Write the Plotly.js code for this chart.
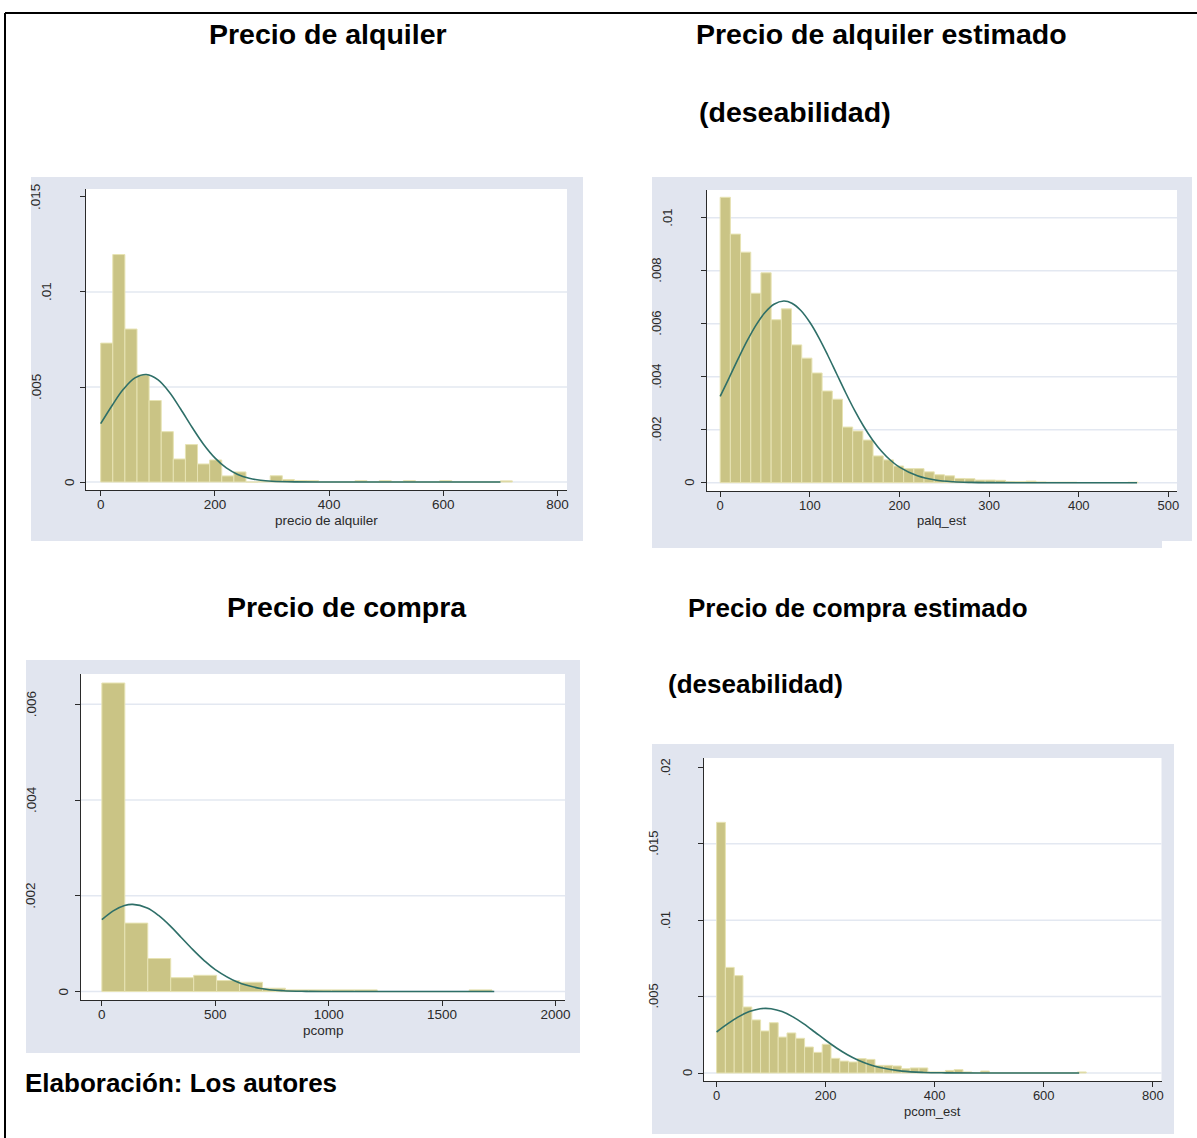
<!DOCTYPE html>
<html>
<head>
<meta charset="utf-8">
<script src="https://cdn.plot.ly/plotly-3.0.1.min.js"></script>
<style>html,body{margin:0;padding:0;background:#fff;}#chart{width:1197px;height:1138px;}</style>
</head>
<body>
<div id="chart"></div>
<script>
// ---------- DATA ----------
// Panel 1: precio de alquiler (histogram densities, bins start at 0)
const alqBinStart = 0;
const alqBinWidth = 21.2;
const alqDensity = [0.00731, 0.01197, 0.00805, 0.00564, 0.00429, 0.00265, 0.00121, 0.00197, 0.00095, 0.00116,
  0.00032, 0.00053, 0.0, 0.00003, 0.00033, 0.00013, 0.00008, 0.00007, 0, 0,
  0, 0.00007, 0, 0.00007, 0, 0.00007, 0, 0, 0.00007, 0,
  0, 0, 0, 0.00006];
const alqCurveX = [0, 20, 40, 60, 80, 100, 120, 140, 160, 180, 200, 220, 240, 260, 280, 300, 340, 400, 500, 600, 700];
const alqCurveY = [0.00307, 0.00403, 0.00489, 0.00548, 0.00566, 0.00539, 0.00474, 0.00384, 0.00288, 0.00199,
  0.00127, 0.00074, 0.0004, 0.0002, 0.00009, 0.00004, 0.000006, 0, 0, 0, 0];
const alqXTicks = [0, 200, 400, 600, 800];
const alqYTicks = [0, 0.005, 0.01, 0.015];
const alqYLabels = ['0', '.005', '.01', '.015'];

// Panel 2: palq_est
const palqBinStart = 0;
const palqBinWidth = 11.37;
const palqDensity = [0.01077, 0.00938, 0.0087, 0.00715, 0.00792, 0.00615, 0.00656, 0.0052, 0.0047, 0.00414,
  0.00346, 0.00315, 0.0021, 0.00195, 0.00161, 0.00101, 0.00086, 0.00063, 0.00053, 0.00053,
  0.00041, 0.0003, 0.00026, 0.00016, 0.00015, 0.0001, 0.0001, 0.00009, 0.00004, 0.00004,
  0.00006, 0.00003, 0.00002, 0.00002, 0.00002, 0.00001, 0.00001, 0.00001, 0.00001, 0.00001, 0.00002];
const palqCurveX = [0, 10, 20, 30, 40, 50, 60, 71, 80, 90, 100, 110, 120, 130, 140, 150, 160, 170, 180, 190,
  200, 220, 240, 260, 280, 300, 350, 400, 465];
const palqCurveY = [0.003257, 0.003958, 0.004669, 0.005348, 0.005948, 0.006423, 0.006734, 0.006855, 0.006773, 0.006499,
  0.006054, 0.005477, 0.00481, 0.004101, 0.003395, 0.002728, 0.002129, 0.001613, 0.001187, 0.000847,
  0.000587, 0.000259, 0.000101, 0.000035, 0.000011, 0.000003, 0, 0, 0];
const palqXTicks = [0, 100, 200, 300, 400, 500];
const palqYTicks = [0, 0.002, 0.004, 0.006, 0.008, 0.01];
const palqYLabels = ['0', '.002', '.004', '.006', '.008', '.01'];

// Panel 3: pcomp
const pcompBinStart = 0;
const pcompBinWidth = 101.2;
const pcompDensity = [0.006446, 0.00143, 0.00069, 0.00029, 0.00034, 0.00023, 0.000195, 0.00007, 0.000035, 0.000035,
  0.000035, 0.000035, 0, 0, 0, 0, 0.000035];
const pcompCurveX = [0, 50, 100, 136, 200, 250, 300, 350, 400, 450, 500, 600, 700, 800, 900, 1000, 1200, 1500, 1730];
const pcompCurveY = [0.001502, 0.001687, 0.001798, 0.001822, 0.001746, 0.001591, 0.001377, 0.00113, 0.000881, 0.000652,
  0.000458, 0.000193, 0.000066, 0.000018, 0.000004, 0.000001, 0, 0, 0];
const pcompXTicks = [0, 500, 1000, 1500, 2000];
const pcompYTicks = [0, 0.002, 0.004, 0.006];
const pcompYLabels = ['0', '.002', '.004', '.006'];

// Panel 4: pcom_est
const pcomEstBinStart = 0;
const pcomEstBinWidth = 16.14;
const pcomEstDensity = [0.0164, 0.00691, 0.00637, 0.00432, 0.00347, 0.00275, 0.00329, 0.00235, 0.00262, 0.00227,
  0.0017, 0.00135, 0.00188, 0.00096, 0.00078, 0.00072, 0.00094, 0.00089, 0.0005, 0.0005,
  0.00046, 0.00028, 0.00033, 0.00033, 0.00007, 0.00007, 0.00017, 0.00022, 0.00007, 0.00002,
  0.00013, 0.00002, 0.00001, 0.00001, 0.00001, 0.00001, 0.00001, 0.00001, 0.00001, 0.00001, 0.00001, 0.00007];
const pcomEstCurveX = [0, 20, 40, 60, 80, 90, 100, 120, 140, 160, 180, 200, 220, 240, 260, 280, 300, 340, 380, 420, 480, 560, 665];
const pcomEstCurveY = [0.002683, 0.003211, 0.003675, 0.004021, 0.004206, 0.00423, 0.004206, 0.004021, 0.003675, 0.003211,
  0.002683, 0.002142, 0.001636, 0.001194, 0.000833, 0.000556, 0.000354, 0.000126, 0.000037, 0.000009, 0, 0, 0];
const pcomEstXTicks = [0, 200, 400, 600, 800];
const pcomEstYTicks = [0, 0.005, 0.01, 0.015, 0.02];
const pcomEstYLabels = ['0', '.005', '.01', '.015', '.02'];

// Texts
const panelTitles = ['Precio de alquiler', 'Precio de alquiler estimado', '(deseabilidad)', 'Precio de compra',
  'Precio de compra estimado', '(deseabilidad)'];
const xAxisTitles = ['precio de alquiler', 'palq_est', 'pcomp', 'pcom_est'];
const sourceNote = 'Elaboración: Los autores';

// ---------- LAYOUT / STYLE ----------
const W = 1197, H = 1138;
const fx = p => p / W;
const fy = p => 1 - p / H;
const FONT = 'Liberation Sans, Arial, Helvetica, sans-serif';
const BAR = '#cac485', BAR_LINE = '#e7e3b3', CURVE = '#2e6f68', GRID = '#e3e8f1', BG = '#e1e5ef', AX = '#2a2a2a';

const panels = [
  {density: alqDensity, start: alqBinStart, w: alqBinWidth, cx: alqCurveX, cy: alqCurveY,
   xt: alqXTicks, yt: alqYTicks, yl: alqYLabels, xtitle: xAxisTitles[0],
   grey: [[31, 177, 583, 541]], plot: [86, 189, 567, 490], xr: [-25.7, 816.5], yr: [-0.00042, 0.01542], fs: 13.5},
  {density: palqDensity, start: palqBinStart, w: palqBinWidth, cx: palqCurveX, cy: palqCurveY,
   xt: palqXTicks, yt: palqYTicks, yl: palqYLabels, xtitle: xAxisTitles[1],
   grey: [[652, 177, 1192, 541], [652, 541, 1162, 548]], plot: [707, 190, 1177, 491], xr: [-14.7, 509.6], yr: [-0.000313, 0.011045], fs: 13},
  {density: pcompDensity, start: pcompBinStart, w: pcompBinWidth, cx: pcompCurveX, cy: pcompCurveY,
   xt: pcompXTicks, yt: pcompYTicks, yl: pcompYLabels, xtitle: xAxisTitles[2],
   grey: [[26, 660, 580, 1053]], plot: [81, 674, 565, 1000], xr: [-92, 2042], yr: [-0.000176, 0.006634], fs: 13.5},
  {density: pcomEstDensity, start: pcomEstBinStart, w: pcomEstBinWidth, cx: pcomEstCurveX, cy: pcomEstCurveY,
   xt: pcomEstXTicks, yt: pcomEstYTicks, yl: pcomEstYLabels, xtitle: xAxisTitles[3],
   grey: [[652, 744, 1174, 1134]], plot: [704, 758, 1161.5, 1081], xr: [-23.1, 816], yr: [-0.000523, 0.020608], fs: 13}
];

const traces = [];
const shapes = [];
const annotations = [];
const layout = {
  width: W, height: H,
  margin: {l: 0, r: 0, t: 0, b: 0, pad: 0},
  paper_bgcolor: '#ffffff',
  plot_bgcolor: 'rgba(0,0,0,0)',
  showlegend: false,
  bargap: 0,
  font: {family: FONT, color: AX}
};

// background panels first
panels.forEach(p => {
  p.grey.forEach(g => shapes.push({type: 'rect', xref: 'paper', yref: 'paper', layer: 'below',
    x0: fx(g[0]), x1: fx(g[2]), y0: fy(g[3]), y1: fy(g[1]), line: {width: 0}, fillcolor: BG}));
  shapes.push({type: 'rect', xref: 'paper', yref: 'paper', layer: 'below',
    x0: fx(p.plot[0]), x1: fx(p.plot[2]), y0: fy(p.plot[3]), y1: fy(p.plot[1]), line: {width: 0}, fillcolor: '#ffffff'});
});

panels.forEach((p, k) => {
  const n = k === 0 ? '' : String(k + 1);
  const xa = 'x' + n, ya = 'y' + n;
  const centers = p.density.map((_, i) => p.start + (i + 0.5) * p.w);
  traces.push({type: 'bar', x: centers, y: p.density, width: p.w, xaxis: xa, yaxis: ya,
    marker: {color: BAR, line: {color: BAR_LINE, width: 1}}, hoverinfo: 'skip'});
  traces.push({type: 'scatter', mode: 'lines', x: p.cx, y: p.cy, xaxis: xa, yaxis: ya,
    line: {color: CURVE, width: 1.6, shape: 'spline', smoothing: 1}, hoverinfo: 'skip'});

  layout['xaxis' + n] = {
    domain: [fx(p.plot[0]), fx(p.plot[2])], range: p.xr, anchor: ya,
    tickmode: 'array', tickvals: p.xt, ticktext: p.xt.map(String),
    ticks: 'outside', ticklen: 5, tickwidth: 1, tickcolor: AX, ticklabelstandoff: -3,
    showline: true, linecolor: AX, linewidth: 1, showgrid: false, zeroline: false,
    tickfont: {family: FONT, size: p.fs, color: AX}, fixedrange: true
  };
  layout['yaxis' + n] = {
    domain: [fy(p.plot[3]), fy(p.plot[1])], range: p.yr, anchor: xa,
    tickmode: 'array', tickvals: p.yt, showticklabels: false,
    ticks: 'outside', ticklen: 5, tickwidth: 1, tickcolor: AX,
    showline: true, linecolor: AX, linewidth: 1, showgrid: false, zeroline: false, fixedrange: true
  };

  // horizontal gridlines (omitted when too close to the top of the plot region)
  const span = p.yr[1] - p.yr[0];
  const plotH = p.plot[3] - p.plot[1];
  p.yt.forEach(v => {
    const distTop = (p.yr[1] - v) / span * plotH;
    if (distTop > 12) {
      shapes.push({type: 'line', xref: xa + ' domain', yref: ya, x0: 0, x1: 1, y0: v, y1: v,
        layer: 'below', line: {color: GRID, width: 1.5}});
    }
  });

  // rotated y tick labels
  p.yt.forEach((v, i) => {
    const lab = p.yl[i];
    annotations.push({xref: xa + ' domain', yref: ya, x: 0, y: v, text: lab, showarrow: false,
      textangle: -90, xanchor: 'center', yanchor: 'middle', xshift: -(6 + 11 * lab.length),
      font: {family: FONT, size: p.fs, color: AX}});
  });

  // x axis title
  annotations.push({xref: xa + ' domain', yref: ya + ' domain', x: 0.5, y: 0, text: p.xtitle, showarrow: false,
    xanchor: 'center', yanchor: 'middle', yshift: -30, font: {family: FONT, size: p.fs, color: AX}});
});

// panel titles
const titlePos = [[328, 34, 28.5], [881.5, 34, 28.5], [794.5, 112, 28.5], [347, 607, 28.5], [857.5, 608, 26], [755.5, 684, 26]];
panelTitles.forEach((t, i) => {
  annotations.push({xref: 'paper', yref: 'paper', x: fx(titlePos[i][0]), y: fy(titlePos[i][1]), text: '<b>' + t + '</b>',
    showarrow: false, xanchor: 'center', yanchor: 'middle', font: {family: FONT, size: titlePos[i][2], color: '#000'}});
});
annotations.push({xref: 'paper', yref: 'paper', x: fx(23), y: fy(1083), text: '<b>' + sourceNote + '</b>',
  showarrow: false, xanchor: 'left', yanchor: 'middle', font: {family: FONT, size: 26, color: '#000'}});

// frame lines
shapes.push({type: 'line', xref: 'paper', yref: 'paper', x0: fx(5), x1: 1, y0: fy(13), y1: fy(13), line: {color: '#000', width: 2}});
shapes.push({type: 'line', xref: 'paper', yref: 'paper', x0: fx(5), x1: fx(5), y0: fy(13), y1: 0, line: {color: '#000', width: 2}});

layout.shapes = shapes;
layout.annotations = annotations;

Plotly.newPlot('chart', traces, layout, {staticPlot: true, displayModeBar: false});
</script>
</body>
</html>
